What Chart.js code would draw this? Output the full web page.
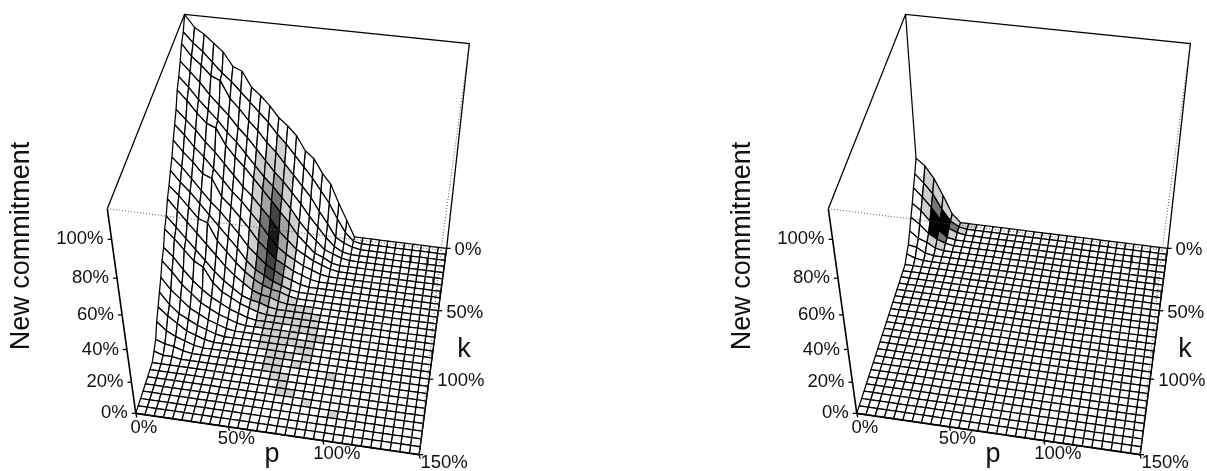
<!DOCTYPE html>
<html>
<head>
<meta charset="utf-8">
<style>
  html, body { margin: 0; background: #fff; }
  canvas { position: absolute; top: 0; }
  #left { left: 0; }
  #right { left: 721px; }
</style>
<script src="https://cdn.jsdelivr.net/npm/chart.js@4/dist/chart.umd.min.js"></script>
</head>
<body>
<canvas id="left" width="486" height="471"></canvas>
<canvas id="right" width="486" height="471"></canvas>
<script>
// ---- Data ----
const pTicks = [0, 50, 100, 150];
const kTicks = [0, 50, 100, 150];
const zTicks = [0, 20, 40, 60, 80, 100];
const gridStep = 5;   // % per cell on both p and k
const gridCells = 30;

// New commitment (%) per k row, per p column. Columns left out are 0.
const heightsLeft = [
  [115,109,106,102,98,91,89,81,77,72,66,62,57,49,45,37,31,20,10,0],
  [109,104,100,95,90,86,81,76,71,66,60,55,49,43,37,30,23,14,6,1],
  [106,100,96,91,89,80,75,69,64,58,53,47,41,35,29,21,14,6,3,1],
  [100,95,90,84,79,74,68,63,57,51,45,40,34,28,21,15,9,4,1],
  [95,90,84,79,74,68,63,57,51,45,40,34,28,21,15,10,5,3,1],
  [91,86,80,75,73,64,58,53,47,41,35,29,23,16,11,6,4,1],
  [84,79,74,68,63,57,51,45,40,34,28,21,16,11,8,5,3,1],
  [79,74,68,63,57,51,45,40,34,28,21,15,11,8,5,3,1],
  [74,68,63,57,55,45,40,34,28,21,16,11,8,5,3,1],
  [68,63,57,51,45,40,34,28,21,16,11,8,5,3,1],
  [64,58,53,47,41,35,29,23,16,11,8,5,3,1],
  [59,54,48,42,40,30,24,18,13,9,6,4,3,1],
  [55,49,43,37,31,25,19,14,10,6,4,3,1],
  [49,43,37,31,25,19,14,10,6,4,3,1],
  [45,40,34,28,25,16,11,8,5,3,1],
  [38,33,26,20,15,11,8,5,3,1],
  [34,28,21,16,11,8,5,3,1],
  [28,21,16,11,8,5,3,1],
  [23,16,11,8,5,3,1],
  [18,13,9,5,3,1],
  [13,8,5,3,1],
  [6,4,3,1],
  [3,1,1],
];
const heightsRight = [
  [37,33,26,16,5,0],
  [31,26,20,11,4,1],
  [26,21,15,8,3,1],
  [20,16,10,5,1],
  [15,11,6,3,1],
  [10,6,4,1],
  [5,4,1],
  [3,1],
];

// Grey level per cell (0 white .. 6 black), same layout as the heights
const shadesLeft = [
  [],
  [0,0,0,0,0,0,0,0,0,0,1],
  [0,0,0,0,0,0,0,0,0,1,1,1],
  [0,0,0,0,0,0,0,0,1,1,2,1],
  [0,0,0,0,0,0,0,0,1,2,3,1,1],
  [0,0,0,0,0,0,0,0,1,2,4,2,1],
  [0,0,0,0,0,0,0,0,1,3,5,2,1],
  [0,0,0,0,0,0,0,0,1,3,5,2,1],
  [0,0,0,0,0,0,0,0,1,3,4,3,1],
  [0,0,0,0,0,0,0,0,1,3,4,3,1],
  [0,0,0,0,0,0,0,0,1,2,3,2,1],
  [0,0,0,0,0,0,0,0,1,2,2,2,1,1],
  [0,0,0,0,0,0,0,0,0,2,2,1,1,1,1,1],
  [0,0,0,0,0,0,0,0,0,1,1,1,1,1,1,1,1],
  [0,0,0,0,0,0,0,0,0,0,1,1,1,1,1,1,1],
  [0,0,0,0,0,0,0,0,0,0,1,1,1,0,1,1,1],
  [0,0,0,0,0,0,0,0,0,0,0,1,1,1,1,0,1,1],
  [0,0,0,0,0,0,0,0,0,0,0,1,1,1,1,1,1],
  [0,0,0,0,0,0,0,0,0,0,0,1,1,1,0,1,1],
  [0,0,0,0,0,0,0,0,0,0,0,0,1,1,1,0,1],
  [0,0,0,0,0,0,0,0,0,0,0,0,1,1,0,1],
  [0,0,0,0,0,0,0,0,0,0,0,0,1,1,0,0,0,0,0,1],
  [0,0,0,0,0,0,0,0,0,0,0,0,0,1,1],
  [0,0,0,0,0,0,0,0,0,0,0,0,0,0,1],
  [0,0,0,0,0,0,0,0,0,0,0,0,0,0,1,1],
  [0,0,0,0,0,0,0,0,0,0,0,0,0,0,0,0,0,1],
  [0,0,0,0,0,0,0,0,0,0,0,0,0,0,0,0,0,0,0,0,1],
];
const shadesRight = [
  [0,1,1,1,1,1,1],
  [0,1,3,6,3,1],
  [0,1,6,6,1],
  [0,0,6,3],
  [0,0,1,1],
];

const shadeColors = ['#ffffff', '#cfcfcf', '#a3a3a3', '#767676', '#444444', '#1a1a1a', '#000000'];

// ---- Camera ----
// pixel position of the box corners: [p, k, z, x, y]
const zTop = 115;
const boxCorners = [
  [0, 150, 0, 136, 413],
  [150, 150, 0, 420, 455],
  [150, 0, 0, 446, 248],
  [0, 0, 0, 199, 218],
  [0, 150, zTop, 107, 209],
  [150, 150, zTop, 440, 250],
  [150, 0, zTop, 470, 44],
  [0, 0, zTop, 185, 14],
];

function solve(m, v) {
  const n = v.length;
  for (let c = 0; c < n; c++) {
    let best = c;
    for (let r = c + 1; r < n; r++) if (Math.abs(m[r][c]) > Math.abs(m[best][c])) best = r;
    [m[c], m[best]] = [m[best], m[c]];
    [v[c], v[best]] = [v[best], v[c]];
    for (let r = c + 1; r < n; r++) {
      const f = m[r][c] / m[c][c];
      for (let i = c; i < n; i++) m[r][i] -= f * m[c][i];
      v[r] -= f * v[c];
    }
  }
  const out = new Array(n).fill(0);
  for (let r = n - 1; r >= 0; r--) {
    let s = v[r];
    for (let i = r + 1; i < n; i++) s -= m[r][i] * out[i];
    out[r] = s / m[r][r];
  }
  return out;
}

// least squares fit of the 11 projection terms
function fitCamera(corners) {
  const ata = Array.from({ length: 11 }, () => new Array(11).fill(0));
  const atb = new Array(11).fill(0);
  const addRow = (row, b) => {
    for (let i = 0; i < 11; i++) {
      atb[i] += row[i] * b;
      for (let j = 0; j < 11; j++) ata[i][j] += row[i] * row[j];
    }
  };
  for (const [p, k, z, x, y] of corners) {
    const P = p / 150, K = k / 150, Z = z / zTop;
    addRow([P, K, Z, 1, 0, 0, 0, 0, -x * P, -x * K, -x * Z], x);
    addRow([0, 0, 0, 0, P, K, Z, 1, -y * P, -y * K, -y * Z], y);
  }
  return solve(ata, atb);
}

const cam = fitCamera(boxCorners);

function project(p, k, z) {
  const P = p / 150, K = k / 150, Z = z / zTop;
  const w = cam[8] * P + cam[9] * K + cam[10] * Z + 1;
  return {
    x: (cam[0] * P + cam[1] * K + cam[2] * Z + cam[3]) / w,
    y: (cam[4] * P + cam[5] * K + cam[6] * Z + cam[7]) / w,
  };
}

// ---- Datasets ----
function heightAt(heights, col, row) {
  return (heights[row] && heights[row][col]) || 0;
}

function edge(points, width, dash) {
  return {
    data: points,
    showLine: true,
    fill: false,
    borderColor: dash ? '#555' : '#000',
    borderWidth: width,
    borderDash: dash || [],
    pointRadius: 0,
  };
}

function buildDatasets(heights, shades) {
  const list = [];
  const corner = (a, b, c) => project(a, b, c);

  // back walls first, the surface hides them
  list.push(edge([corner(0, 0, 0), corner(0, 0, zTop)], 1.2));

  // cells far to near, outer columns before the ones under the camera
  const cameraCol = 12;
  const cols = [...Array(gridCells).keys()].sort((a, b) => Math.abs(b - cameraCol) - Math.abs(a - cameraCol));
  for (let row = 0; row < gridCells; row++) {
    for (const col of cols) {
      const pt = (c, r) => project(c * gridStep, r * gridStep, heightAt(heights, c, r));
      const level = (shades[row] && shades[row][col]) || 0;
      list.push({
        data: [pt(col, row), pt(col + 1, row), pt(col + 1, row + 1), pt(col, row + 1), pt(col, row)],
        showLine: true,
        fill: 'shape',
        backgroundColor: shadeColors[level],
        borderColor: '#000',
        borderWidth: 1.25,
        pointRadius: 0,
      });
    }
  }

  // box edges
  list.push(edge([corner(0, 150, zTop), corner(0, 0, zTop), corner(150, 0, zTop), corner(150, 0, 0), corner(150, 150, 0)], 1.3));
  list.push(edge([corner(0, 150, 0), corner(0, 150, zTop)], 1.6));
  list.push(edge([corner(0, 150, 0), corner(150, 150, 0)], 1.9));
  list.push(edge([corner(0, 150, zTop), corner(150, 150, zTop), corner(150, 0, zTop)], 1, [1, 2]));
  list.push(edge([corner(150, 150, zTop), corner(150, 150, 0)], 1, [1, 2]));

  // ticks
  const tickLen = 4;
  for (const z of zTicks) {
    const a = corner(0, 150, z);
    list.push(edge([a, { x: a.x - tickLen, y: a.y }], 1.3));
  }
  for (const p of pTicks) {
    const a = corner(p, 150, 0);
    list.push(edge([a, { x: a.x + 1, y: a.y + tickLen }], 1.3));
  }
  for (const k of kTicks) {
    const a = corner(150, k, 0);
    list.push(edge([a, { x: a.x + tickLen, y: a.y }], 1.3));
  }

  // later in the list means drawn later
  list.forEach((d, i) => { d.order = -i; });
  return list;
}

// ---- Labels ----
const labelNudgeP = { 0: [8, 15], 50: [8, 12], 100: [14, 13], 150: [25, 8] };

const axisLabels = {
  id: 'axisLabels',
  afterDraw(chart) {
    const ctx = chart.ctx;
    ctx.save();
    ctx.fillStyle = '#111';
    ctx.textBaseline = 'middle';
    ctx.font = '18.5px "Liberation Sans"';

    ctx.textAlign = 'right';
    for (const z of zTicks) {
      const a = project(0, 150, z);
      ctx.fillText(z + '%', a.x - 8, a.y);
    }
    ctx.textAlign = 'center';
    for (const p of pTicks) {
      const a = project(p, 150, 0);
      ctx.fillText(p + '%', a.x + labelNudgeP[p][0], a.y + labelNudgeP[p][1]);
    }
    ctx.textAlign = 'left';
    for (const k of kTicks.slice(0, 3)) {
      const a = project(150, k, 0);
      ctx.fillText(k + '%', a.x + 8, a.y + 2);
    }

    ctx.font = '27px "Liberation Sans"';
    ctx.textAlign = 'center';
    ctx.fillText('p', 272, 455);
    ctx.fillText('k', 464, 350);
    ctx.translate(22, 246);
    ctx.rotate(-Math.PI / 2);
    ctx.fillText('New commitment', 0, 0);
    ctx.restore();
  },
};

// ---- Charts ----
function createSurfaceChart(canvasId, heights, shades) {
  const el = document.getElementById(canvasId);
  return new Chart(el.getContext('2d'), {
    type: 'scatter',
    data: { datasets: buildDatasets(heights, shades) },
    options: {
      responsive: false,
      animation: false,
      events: [],
      layout: { padding: 0 },
      elements: { line: { tension: 0, borderJoinStyle: 'miter' } },
      plugins: {
        legend: { display: false },
        tooltip: { enabled: false },
        filler: { drawTime: 'beforeDatasetDraw', propagate: false },
      },
      scales: {
        x: { type: 'linear', display: false, min: 0, max: el.width },
        y: { type: 'linear', display: false, min: 0, max: el.height, reverse: true },
      },
    },
    plugins: [axisLabels],
  });
}

createSurfaceChart('left', heightsLeft, shadesLeft);
createSurfaceChart('right', heightsRight, shadesRight);
</script>
</body>
</html>
